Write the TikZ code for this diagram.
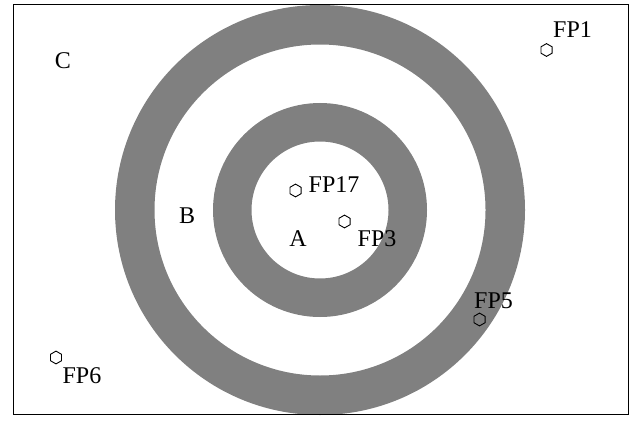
\documentclass[tikz,border=0pt]{standalone}
\usepackage{fontspec}
\setmainfont{Liberation Serif}
\usetikzlibrary{shapes.geometric}
\definecolor{ringgray}{RGB}{128,128,128}
\begin{document}
\begin{tikzpicture}[x=0.5pt,y=-0.5pt,
  hexa/.style={regular polygon, regular polygon sides=6, shape border rotate=30, draw=black, fill=none, inner sep=0pt, minimum size=6.4pt, line width=0.45pt},
  lbl/.style={anchor=base, inner sep=0pt, font=\fontsize{12}{14}\selectfont},
  ringfill/.style={fill=ringgray, even odd rule}]
\useasboundingbox (0,0) rectangle (640,422);
\coordinate (ctr) at (320,210);
\fill[ringfill] (ctr) circle[radius=102.5pt] (ctr) circle[radius=82.75pt];
\fill[ringfill] (ctr) circle[radius=53.5pt] (ctr) circle[radius=34.25pt];
\draw[line width=0.5pt] (13,5) rectangle (628,414);
% hexagon markers
\node[hexa] (h1) at (546.5,50) {};
\node[hexa] (h17) at (295.5,190.5) {};
\node[hexa] (h3) at (344.5,221.5) {};
\node[hexa] (h5) at (479.5,319.5) {};
\node[hexa] (h6) at (56,357.5) {};
% labels
\node[lbl] (l1) at (572.5,38) {FP1};
\node[lbl] (l17) at (334,192) {FP17};
\node[lbl] (l3) at (377,246) {FP3};
\node[lbl] (l5) at (493.5,308) {FP5};
\node[lbl] (l6) at (82,383) {FP6};
\node[lbl] (la) at (298,246) {A};
\node[lbl] (lb) at (187,223) {B};
\node[lbl] (lc) at (63,69) {C};
\end{tikzpicture}
\end{document}
